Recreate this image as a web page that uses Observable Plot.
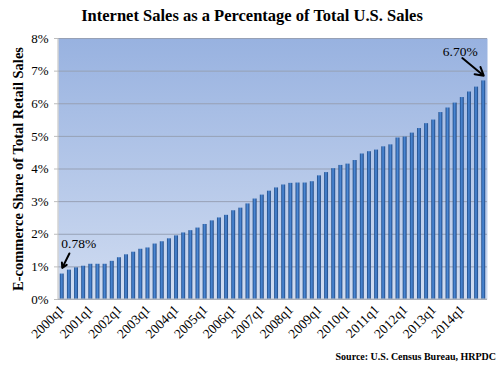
<!DOCTYPE html>
<html><head><meta charset="utf-8">
<script src="https://cdn.jsdelivr.net/npm/d3@7"></script>
<script src="https://cdn.jsdelivr.net/npm/@observablehq/plot@0.6"></script>
<style>
body{margin:0;background:#fff;width:504px;height:367px;overflow:hidden;font-family:"Liberation Serif",serif;color:#000}
#title{height:28px;line-height:32px;text-align:center;font-weight:bold;font-size:16.5px;}
#chart{height:320px;}
#source{text-align:right;font-size:10px;font-weight:bold;padding-right:8px;line-height:14px;margin-top:2px;}
</style></head><body>
<div id="title">Internet Sales as a Percentage of Total U.S. Sales</div>
<div id="chart"></div>
<div id="source">Source: U.S. Census Bureau, HRPDC</div>
<script>
// Categories (quarters)
const quarters = [
 "2000q1","2000q2","2000q3","2000q4","2001q1","2001q2","2001q3","2001q4",
 "2002q1","2002q2","2002q3","2002q4","2003q1","2003q2","2003q3","2003q4",
 "2004q1","2004q2","2004q3","2004q4","2005q1","2005q2","2005q3","2005q4",
 "2006q1","2006q2","2006q3","2006q4","2007q1","2007q2","2007q3","2007q4",
 "2008q1","2008q2","2008q3","2008q4","2009q1","2009q2","2009q3","2009q4",
 "2010q1","2010q2","2010q3","2010q4","2011q1","2011q2","2011q3","2011q4",
 "2012q1","2012q2","2012q3","2012q4","2013q1","2013q2","2013q3","2013q4",
 "2014q1","2014q2","2014q3","2014q4"
];
// E-commerce share of total retail sales (%)
const share = [
 0.78,0.90,0.97,1.02,1.08,1.08,1.08,1.17,
 1.28,1.37,1.45,1.54,1.58,1.70,1.77,1.86,
 1.95,2.04,2.11,2.19,2.30,2.41,2.50,2.58,
 2.72,2.80,2.93,3.08,3.20,3.32,3.42,3.51,
 3.56,3.57,3.57,3.61,3.79,3.89,4.01,4.11,
 4.15,4.26,4.46,4.53,4.58,4.68,4.74,4.95,
 4.98,5.10,5.24,5.39,5.50,5.73,5.87,6.02,
 6.19,6.36,6.51,6.70
];
// Tick labels
const yTicks = [0,1,2,3,4,5,6,7,8];
const xTickLabels = ["2000q1","2001q1","2002q1","2003q1","2004q1","2005q1","2006q1","2007q1","2008q1","2009q1","2010q1","2011q1","2012q1","2013q1","2014q1"];
// Annotations
const callouts = [
  {label: "0.78%", tx: "2000q1", ty: 1.71, ax1: "2000q2", ay1: 1.41, ax2: "2000q1", ay2: 0.97},
  {label: "6.70%", tx: "2014q4", ty: 7.6, ax1: "2014q1", ay1: 7.4, ax2: "2014q4", ay2: 6.86}
];

const data = quarters.map((q, i) => ({q, v: share[i]}));
const serif = '"Liberation Serif", "DejaVu Serif", serif';

const W = 504, H = 320, mT = 10, mL = 58, mR = 17, mB = 49;

const chart = Plot.plot({
  width: W, height: H,
  marginTop: mT, marginLeft: mL, marginRight: mR, marginBottom: mB,
  style: {fontFamily: serif, fontSize: "13px", background: "transparent", overflow: "visible", color: "#000"},
  x: {type: "band", domain: quarters, paddingInner: 0.45, paddingOuter: 0.25, round: false},
  y: {domain: [0, 8]},
  marks: [
    Plot.frame({fill: "#b5c8ea", stroke: null}),
    Plot.gridY(yTicks, {stroke: "#97a1b5", strokeOpacity: 1, strokeWidth: 1}),
    Plot.barY(data, {x: "q", y: "v", fill: "#3a72bd"}),
    Plot.axisY({ticks: yTicks, tickFormat: d => d + "%", tickSize: 4, tickPadding: 6, stroke: "#bdbdbd", label: null, fontSize: 13}),
    Plot.axisX({ticks: xTickLabels, tickRotate: -45, tickSize: 0, tickPadding: 8, label: null, fontSize: 13.5}),
    Plot.text(["E-commerce Share of Total Retail Sales"], {frameAnchor: "left", textAnchor: "middle", rotate: -90, dx: -40, fontWeight: "bold", fontSize: 14.5, fill: "#000"}),
    Plot.arrow(callouts, {x1: "ax1", y1: "ay1", x2: "ax2", y2: "ay2", stroke: "#000", strokeWidth: 2, headLength: 8}),
    Plot.text(callouts.slice(0, 1), {x: "tx", y: "ty", text: "label", textAnchor: "start", dx: -1, fontSize: 13.5, fill: "#000"}),
    Plot.text(callouts.slice(1), {x: "tx", y: "ty", text: "label", textAnchor: "end", dx: -6, fontSize: 13.5, fill: "#000"})
  ]
});

document.getElementById("chart").appendChild(chart);
const svg = d3.select(chart);
const defs = svg.insert("defs", ":first-child");
const bg = defs.append("linearGradient").attr("id", "bgGrad").attr("x1", 0).attr("y1", 0).attr("x2", 0).attr("y2", 1);
bg.append("stop").attr("offset", "0%").attr("stop-color", "#98b2e0");
bg.append("stop").attr("offset", "100%").attr("stop-color", "#d0dcf1");
const bar = defs.append("linearGradient").attr("id", "barGrad").attr("x1", 0).attr("y1", 0).attr("x2", 1).attr("y2", 0);
[["0%","#1b447d"],["30%","#3c78c4"],["50%","#4d88d2"],["75%","#3468b0"],["100%","#1a4178"]].forEach(([o,c]) => bar.append("stop").attr("offset", o).attr("stop-color", c));
svg.selectAll('rect[aria-label="frame"], g[aria-label="frame"] rect').attr("fill", "url(#bgGrad)");
svg.selectAll('g[aria-label="bar"] rect').attr("fill", "url(#barGrad)");
// left and bottom axis lines
svg.append("line").attr("x1", mL).attr("x2", mL).attr("y1", mT).attr("y2", H - mB).attr("stroke", "#bdbdbd");
svg.append("line").attr("x1", mL).attr("x2", W - mR).attr("y1", H - mB).attr("y2", H - mB).attr("stroke", "#bdbdbd");
</script>
</body></html>
